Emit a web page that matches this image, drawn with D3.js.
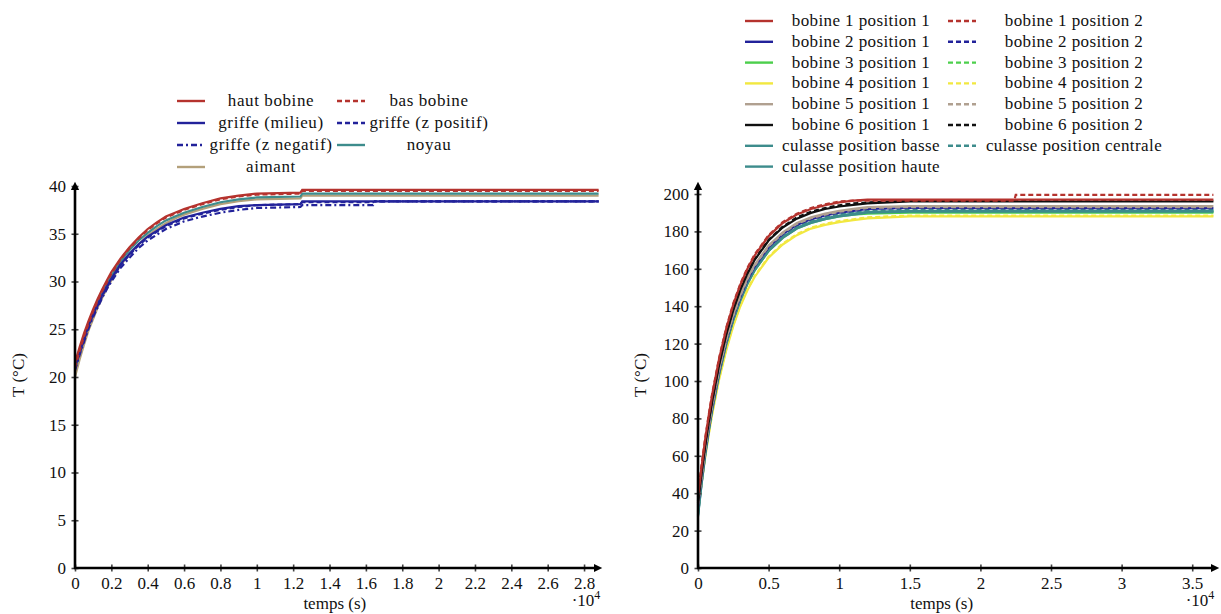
<!DOCTYPE html>
<html><head><meta charset="utf-8">
<script src="https://cdn.jsdelivr.net/npm/d3@7"></script>
<style>
body{margin:0;background:#fff;}
</style></head>
<body>
<svg id="c" width="1221" height="614"></svg>
<script>
// ---------- LEFT CHART DATA ----------
const timesL = [0,250,500,750,1000,1250,1500,1750,2000,2500,3000,3500,4000,4500,5000,5500,6000,7000,8000,9000,10000,12400,12500,16400,16500,28800];
const hautBobine  = [21.5,23.1,24.6,25.9,27.1,28.2,29.2,30.1,31.0,32.4,33.6,34.6,35.5,36.2,36.8,37.2,37.6,38.2,38.7,39.0,39.2,39.3,39.6,39.6,39.6,39.6];
const basBobine   = [21.0,22.7,24.3,25.6,26.9,28.0,29.0,29.9,30.8,32.3,33.5,34.5,35.4,36.1,36.7,37.1,37.5,38.1,38.6,38.9,39.1,39.2,39.5,39.5,39.5,39.5];
const griffeMilieu= [21.0,22.6,24.0,25.4,26.6,27.6,28.6,29.5,30.3,31.8,32.9,33.9,34.7,35.3,35.9,36.3,36.7,37.2,37.6,37.9,38.0,38.1,38.4,38.4,38.4,38.4];
const griffeZPos  = [20.9,22.5,23.9,25.3,26.5,27.5,28.5,29.4,30.2,31.7,32.8,33.8,34.6,35.2,35.8,36.2,36.6,37.1,37.5,37.8,38.0,38.1,38.3,38.3,38.4,38.4];
const griffeZNeg  = [20.7,22.3,23.7,25.1,26.3,27.3,28.3,29.2,30.0,31.4,32.5,33.5,34.3,34.9,35.5,35.9,36.3,36.8,37.2,37.5,37.7,37.8,38.0,38.0,38.4,38.4];
const noyau       = [20.8,22.5,24.1,25.5,26.7,27.8,28.8,29.7,30.6,32.1,33.3,34.3,35.1,35.8,36.4,36.8,37.2,37.8,38.3,38.6,38.8,38.9,39.2,39.2,39.2,39.2];
const aimant      = [20.0,21.8,23.4,24.9,26.1,27.3,28.3,29.3,30.1,31.7,32.9,33.9,34.8,35.5,36.1,36.6,37.0,37.6,38.1,38.4,38.6,38.7,39.0,39.0,39.0,39.0];
const xTicksL = [0,2000,4000,6000,8000,10000,12000,14000,16000,18000,20000,22000,24000,26000,28000];
const xTickLabelsL = ["0","0.2","0.4","0.6","0.8","1","1.2","1.4","1.6","1.8","2","2.2","2.4","2.6","2.8"];
const yTicksL = [0,5,10,15,20,25,30,35,40];

// ---------- RIGHT CHART DATA ----------
const timesR = [0,250,500,750,1000,1500,2000,2500,3000,3500,4000,5000,6000,7000,8000,9000,10000,11000,12000,15000,22400,22500,36500];
const b1p1 = [38,54,68.5,81,92.5,112,128,141,151.5,160,167,177.5,184.5,189,192,194,195.5,196.5,197,197,197,197,197];
const b1p2 = [40,55,69,81.5,93,112.5,128.5,141.5,152,160.5,167.5,178,185,189.5,192.5,194.5,196,196.5,196.5,196.5,196.5,199.5,199.5];
const b2p1 = [33,48,62,74.5,86,105.5,121.5,134.5,145,154,161,171.5,178.5,183.5,186.5,188.5,190,191,192,192.5,192.5,192.5,192.5];
const b2p2 = [33.5,48.5,62.5,75,86.5,106,122,135,145.5,154.5,161.5,172,179,184,187,189,190.5,191.5,192.5,193,193,193,193];
const b3p1 = [32,47,61,73.5,85,104.5,120,133,143.5,152,159,169.5,176.5,181.5,184.5,186.5,188,189,189.5,190,190,190,190];
const b3p2 = [32.5,47.5,61.5,74,85.5,105,120.5,133.5,144,152.5,159.5,170,177,182,185,187,188.5,189.5,190,190.5,190.5,190.5,190.5];
const b4p1 = [30,45,58.5,71,82,101,116.5,129.5,140,148.5,155.5,166,173,178,181.5,183.5,185,186,187,188,188,188,188];
const b4p2 = [30.5,45.5,59,71.5,82.5,101.5,117,130,140.5,149,156,166.5,173.5,178.5,182,184,185.5,186.5,187.5,188.5,188.5,188.5,188.5];
const b5p1 = [34,49,63,75.5,87,106.5,122.5,135.5,146,155,162,172.5,179.5,184.5,187.5,189.5,191,192,193,193.5,193.5,193.5,193.5];
const b5p2 = [33.5,48.5,62.5,75,86.5,106,122,135,145.5,154.5,161.5,172,179,184,187,189,190.5,191.5,192.5,193,193,193,193];
const b6p1 = [35,50.6,64.8,77.5,88.9,108.7,124.8,138,148.7,157.4,164.6,175.1,182.1,186.8,189.9,192,193.3,194.2,195,196,196,196,196];
const b6p2 = [36,51.5,65.5,78,89.5,109.5,125.5,138.5,149.5,158,165,175.5,182.5,187.5,190.5,192.5,194,195,195.5,196.5,196.5,196.5,196.5];
const culBasse    = [28,45,60,73,84.5,104,120,133,143.5,152.5,159.5,170,177,182,185,187,188.5,189.5,190.5,191,191,191,191];
const culCentrale = [28.5,45.5,60.5,73.5,85,104.5,120.5,133.5,144,153,160,170.5,177.5,182.5,185.5,187.5,189,190,191,191.5,191.5,191.5,191.5];
const culHaute    = [27.5,44.5,59.5,72.5,84,103.5,119.5,132.5,143,152,159,169.5,176.5,181.5,184.5,186.5,188,189,190,190.5,190.5,190.5,190.5];
const xTicksR = [0,5000,10000,15000,20000,25000,30000,35000];
const xTickLabelsR = ["0","0.5","1","1.5","2","2.5","3","3.5"];
const yTicksR = [0,20,40,60,80,100,120,140,160,180,200];

const FONT = "'Liberation Serif', LiberationSerif, 'DejaVu Serif', DejaVuSerif, Tinos, 'Times New Roman', Times, serif";

// colours
const RED="#b5332e", BLUE="#22229a", TEAL="#3d8c8c", TAN="#b3a07a",
      GREEN="#4ccf4c", YELLOW="#f2e840", GREYTAN="#b0a090", BLACK="#111111";

const leftSeries = [
  {v:aimant, c:TAN, d:null},
  {v:noyau, c:TEAL, d:null},
  {v:griffeZNeg, c:BLUE, d:"6,3,2,3"},
  {v:griffeZPos, c:BLUE, d:"5,3"},
  {v:griffeMilieu, c:BLUE, d:null},
  {v:basBobine, c:RED, d:"5,3"},
  {v:hautBobine, c:RED, d:null}
];
const rightSeries = [
  {v:b4p1,c:YELLOW,d:null},{v:b4p2,c:YELLOW,d:"5,3"},
  {v:b3p1,c:GREEN,d:null},{v:b3p2,c:GREEN,d:"5,3"},
  {v:culHaute,c:TEAL,d:null},{v:culBasse,c:TEAL,d:null},{v:culCentrale,c:TEAL,d:"5,3"},
  {v:b2p1,c:BLUE,d:null},{v:b2p2,c:BLUE,d:"5,3"},
  {v:b5p1,c:GREYTAN,d:null},{v:b5p2,c:GREYTAN,d:"5,3"},
  {v:b6p1,c:BLACK,d:null},{v:b6p2,c:BLACK,d:"5,3"},
  {v:b1p1,c:RED,d:null},{v:b1p2,c:RED,d:"5,3"}
];

const svg = d3.select("#c").style("font-family",FONT);
const defs = svg.append("defs");
defs.append("marker").attr("id","arr").attr("viewBox","0 0 10 10").attr("refX",2).attr("refY",5)
  .attr("markerWidth",4).attr("markerHeight",4).attr("orient","auto")
  .append("path").attr("d","M0,1 L8,5 L0,9 z").attr("fill","#000");

function styleText(sel){ return sel.style("font-family",FONT).attr("fill","#111"); }

function drawChart(o){
  const g = svg.append("g");
  const x = d3.scaleLinear().domain([0,o.xmax]).range([o.x0,o.x1]);
  const y = d3.scaleLinear().domain([0,o.ymax]).range([568,o.yTop]);
  const line = d3.line().x((d,i)=>x(o.times[i])).y(d=>y(d));
  o.series.forEach(s=>{
    g.append("path").attr("d",line(s.v)).attr("fill","none").attr("stroke",s.c)
     .attr("stroke-width",2.2).attr("stroke-dasharray",s.d);
  });
  const xa = d3.axisBottom(x).tickValues(o.xTicks).tickFormat((d,i)=>o.xLabels[i]).tickSize(3).tickPadding(6);
  const gx = g.append("g").attr("transform","translate(0,568)").call(xa);
  gx.attr("font-family",null);
  gx.select(".domain").remove();
  gx.selectAll(".tick line").attr("y1",-3.5).attr("y2",3.5).attr("stroke","#444").attr("stroke-width",1.6);
  styleText(gx.selectAll(".tick text")).attr("font-size",17);
  const ya = d3.axisLeft(y).tickValues(o.yTicks).tickSize(3).tickPadding(6);
  const gy = g.append("g").attr("transform",`translate(${o.x0},0)`).call(ya);
  gy.attr("font-family",null);
  gy.select(".domain").remove();
  gy.selectAll(".tick line").attr("x1",-3.5).attr("x2",3.5).attr("stroke","#444").attr("stroke-width",1.6);
  styleText(gy.selectAll(".tick text")).attr("font-size",17);
  g.append("line").attr("x1",o.x0-1).attr("x2",o.xEnd).attr("y1",568).attr("y2",568)
    .attr("stroke","#000").attr("stroke-width",2.6).attr("marker-end","url(#arr)");
  g.append("line").attr("x1",o.x0).attr("x2",o.x0).attr("y1",569).attr("y2",o.yEnd)
    .attr("stroke","#000").attr("stroke-width",2.6).attr("marker-end","url(#arr)");
  styleText(g.append("text")).attr("x",(o.x0+o.x1)/2+(o.xLabelShift||0)).attr("y",609).attr("text-anchor","middle")
    .attr("font-size",17).text("temps (s)");
  styleText(g.append("text")).attr("transform",`translate(${o.yLabelX},375) rotate(-90)`).attr("text-anchor","middle")
    .attr("font-size",17).text("T (°C)");
  const m = styleText(g.append("text")).attr("x",o.multX).attr("y",606).attr("font-size",17).attr("text-anchor","middle");
  m.append("tspan").text("·10");
  m.append("tspan").attr("dy",-7).attr("font-size",12).text("4");
}

drawChart({x0:75, x1:598.6, xmax:28800, ymax:40, yTop:186, times:timesL, series:leftSeries,
  xTicks:xTicksL, xLabels:xTickLabelsL, yTicks:yTicksL, xEnd:596, yEnd:188,
  yLabelX:24, multX:586, xLabelShift:-2});
drawChart({x0:698, x1:1213.4, xmax:36500, ymax:200, yTop:194, times:timesR, series:rightSeries,
  xTicks:xTicksR, xLabels:xTickLabelsR, yTicks:yTicksR, xEnd:1213, yEnd:188,
  yLabelX:646, multX:1200, xLabelShift:-14});

// ---------- LEGENDS ----------
const legL = [
  {t:"haut bobine",c:RED,d:null,col:0,row:0},{t:"bas bobine",c:RED,d:"5,3",col:1,row:0},
  {t:"griffe (milieu)",c:BLUE,d:null,col:0,row:1},{t:"griffe (z positif)",c:BLUE,d:"5,3",col:1,row:1},
  {t:"griffe (z negatif)",c:BLUE,d:"6,3,2,3",col:0,row:2},{t:"noyau",c:TEAL,d:null,col:1,row:2},
  {t:"aimant",c:TAN,d:null,col:0,row:3}
];
const legR = [
  {t:"bobine 1 position 1",c:RED,d:null},{t:"bobine 1 position 2",c:RED,d:"5,3"},
  {t:"bobine 2 position 1",c:BLUE,d:null},{t:"bobine 2 position 2",c:BLUE,d:"5,3"},
  {t:"bobine 3 position 1",c:GREEN,d:null},{t:"bobine 3 position 2",c:GREEN,d:"5,3"},
  {t:"bobine 4 position 1",c:YELLOW,d:null},{t:"bobine 4 position 2",c:YELLOW,d:"5,3"},
  {t:"bobine 5 position 1",c:GREYTAN,d:null},{t:"bobine 5 position 2",c:GREYTAN,d:"5,3"},
  {t:"bobine 6 position 1",c:BLACK,d:null},{t:"bobine 6 position 2",c:BLACK,d:"5,3"},
  {t:"culasse position basse",c:TEAL,d:null},{t:"culasse position centrale",c:TEAL,d:"5,3"},
  {t:"culasse position haute",c:TEAL,d:null}
];
function legend(items, o){
  const g = svg.append("g");
  items.forEach((it,i)=>{
    const col = it.col!==undefined ? it.col : i%2;
    const row = it.row!==undefined ? it.row : Math.floor(i/2);
    const yy = o.y0 + row*o.dy;
    const lx = o.lineX[col];
    styleText(g.append("text")).attr("x",o.textX[col]).attr("y",yy+5).attr("text-anchor","middle")
      .attr("font-size",17).attr("letter-spacing",o.ls).text(it.t);
    g.append("line").attr("x1",lx).attr("x2",lx+28).attr("y1",yy).attr("y2",yy)
      .attr("stroke",it.c).attr("stroke-width",2.4).attr("stroke-dasharray",it.d);
  });
}
legend(legL,{y0:101,dy:22,lineX:[177,337],textX:[271,429],ls:0.6});
legend(legR,{y0:21,dy:20.8,lineX:[745,948],textX:[861,1074],ls:0.4});
</script>
</body></html>
